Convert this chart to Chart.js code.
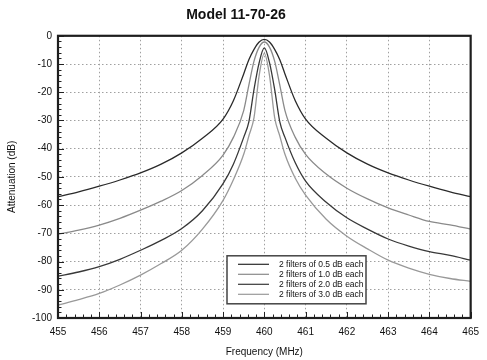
<!DOCTYPE html>
<html>
<head>
<meta charset="utf-8">
<script src="https://cdn.jsdelivr.net/npm/chart.js@4.4.1/dist/chart.umd.min.js"></script>
<style>
  html, body { margin: 0; padding: 0; background: #fff; }
  #wrap { width: 487px; height: 360px; }
</style>
</head>
<body>
<div id="wrap"><canvas id="resp"></canvas></div>
<script>
// frequency points (MHz)
const freqMHz = [455, 455.5, 456, 456.5, 457, 457.5, 458, 458.5, 459, 459.25, 459.5, 459.625, 459.75, 459.875,
  460, 460.125, 460.25, 460.375, 460.5, 460.75, 461, 461.5, 462, 462.5, 463, 463.5, 464, 464.5, 465];

// attenuation (dB) for each filter pair
const loss05 = [-57, -55.3, -53.3, -51.1, -48.6, -45.5, -41.5, -36.3, -29.5, -23, -13.5, -8.5, -4.8, -2.2,
  -1.3, -2.2, -4.8, -8.5, -13.5, -23, -29.5, -36.3, -41.5, -45.5, -48.6, -51.1, -53.3, -55.3, -57];
const loss10 = [-70.3, -68.9, -67.1, -64.7, -61.8, -58.6, -54.8, -49.5, -42.3, -36, -26.5, -17.5, -9, -4,
  -2.2, -4, -9, -17.5, -26.5, -36, -42, -49, -54, -57.8, -61, -63.5, -65.8, -67, -68.5];
const loss20 = [-85.2, -83.7, -81.8, -79.2, -76, -72.5, -68.3, -62, -52.4, -45.5, -36, -30.5, -19, -9.5,
  -4.3, -9.5, -19, -30.5, -36, -45, -51.5, -59, -64.5, -68.5, -72, -74.5, -76.5, -77.8, -79.5];
const loss30 = [-95.4, -93.5, -91.3, -88.3, -84.8, -80.7, -76, -68.5, -58.3, -51, -42, -35.5, -29, -14,
  -6.2, -14, -29, -35.5, -42, -50.5, -56.5, -65, -71, -75.5, -79.5, -82.3, -84.5, -86, -87];

const seriesLabels = ["2 filters of 0.5 dB each", "2 filters of 1.0 dB each",
  "2 filters of 2.0 dB each", "2 filters of 3.0 dB each"];
const seriesColors = ["#2a2a2a", "#8a8a8a", "#383838", "#999999"];

const FONT = "'Liberation Sans', Arial, Helvetica, sans-serif";

function toPoints(vals) {
  return vals.map((v, i) => ({ x: freqMHz[i], y: v }));
}

const allLoss = [loss05, loss10, loss20, loss30];

// frame, inward minor ticks and the boxed key inside the plot
const decor = {
  id: "decor",
  afterDatasetsDraw(chart) {
    const { ctx, chartArea: ca, scales } = chart;
    const xs = scales.x, ys = scales.y;
    ctx.save();
    ctx.strokeStyle = "#222";
    ctx.lineWidth = 1;
    // ticks along bottom edge
    for (let f = 455; f <= 465.001; f += 0.2) {
      const px = Math.round(xs.getPixelForValue(f)) + 0.5;
      const major = Math.abs(f - Math.round(f)) < 0.01;
      ctx.beginPath();
      ctx.moveTo(px, ca.bottom);
      ctx.lineTo(px, ca.bottom - (major ? 6 : 3.5));
      ctx.stroke();
    }
    // ticks along left edge
    for (let d = -100; d <= 0; d += 2) {
      const py = Math.round(ys.getPixelForValue(d)) + 0.5;
      const major = d % 10 === 0;
      ctx.beginPath();
      ctx.moveTo(ca.left, py);
      ctx.lineTo(ca.left + (major ? 6 : 3.5), py);
      ctx.stroke();
    }
    // plot frame
    ctx.lineWidth = 2.2;
    ctx.strokeStyle = "#1e1e1e";
    ctx.strokeRect(ca.left, ca.top, ca.right - ca.left, ca.bottom - ca.top);

    // key box
    const bx = ca.left + 169, by = ca.top + 220, bw = 139, bh = 48;
    ctx.fillStyle = "#fff";
    ctx.fillRect(bx, by, bw, bh);
    ctx.lineWidth = 1.5;
    ctx.strokeStyle = "#444";
    ctx.strokeRect(bx, by, bw, bh);
    ctx.font = "8.5px " + FONT;
    ctx.textBaseline = "middle";
    ctx.textAlign = "left";
    chart.data.datasets.forEach((ds, i) => {
      const ry = by + 8.5 + i * 10;
      ctx.strokeStyle = ds.borderColor;
      ctx.lineWidth = 1.2;
      ctx.beginPath();
      ctx.moveTo(bx + 11, ry);
      ctx.lineTo(bx + 42, ry);
      ctx.stroke();
      ctx.fillStyle = "#111";
      ctx.fillText(ds.label, bx + 52, ry);
    });
    ctx.restore();
  }
};

new Chart(document.getElementById("resp"), {
  type: "line",
  data: {
    datasets: allLoss.map((vals, i) => ({
      label: seriesLabels[i],
      data: toPoints(vals),
      borderColor: seriesColors[i],
      borderWidth: 1.3,
      pointRadius: 0,
      fill: false,
      cubicInterpolationMode: "monotone"
    }))
  },
  options: {
    responsive: true,
    maintainAspectRatio: false,
    animation: false,
    layout: { padding: { left: 0, right: 15, top: 0, bottom: 0 } },
    plugins: {
      legend: { display: false },
      tooltip: { enabled: false },
      title: {
        display: true,
        text: "Model 11-70-26",
        color: "#111",
        font: { family: FONT, size: 14, weight: "bold" },
        padding: { top: 7, bottom: 12 }
      }
    },
    scales: {
      x: {
        type: "linear",
        min: 455,
        max: 465,
        ticks: { stepSize: 1, color: "#111", font: { family: FONT, size: 10 }, padding: 8, maxRotation: 0 },
        grid: { color: "#a0a0a0", lineWidth: 1, drawTicks: false },
        border: { display: false, dash: [1.5, 2.5] },
        title: { display: true, text: "Frequency (MHz)", color: "#111", font: { family: FONT, size: 10 }, padding: { top: 6, bottom: 2 } },
        afterFit(scale) { scale.height = 42; }
      },
      y: {
        min: -100,
        max: 0,
        ticks: { stepSize: 10, color: "#111", font: { family: FONT, size: 10 }, padding: 6 },
        grid: { color: "#a0a0a0", lineWidth: 1, drawTicks: false },
        border: { display: false, dash: [1.5, 2.5] },
        title: { display: true, text: "Attenuation (dB)", color: "#111", font: { family: FONT, size: 10 }, padding: { top: 6, bottom: 0 } },
        afterFit(scale) { scale.width = 58; }
      }
    }
  },
  plugins: [decor]
});
</script>
</body>
</html>
